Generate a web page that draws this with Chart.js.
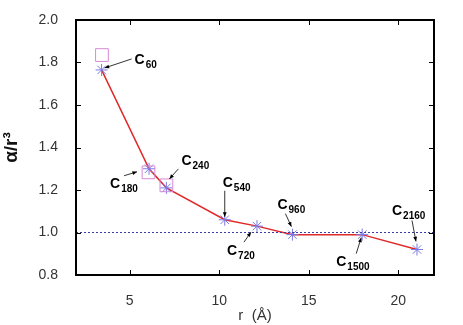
<!DOCTYPE html>
<html>
<head>
<meta charset="utf-8">
<script src="https://cdn.jsdelivr.net/npm/chart.js@4.4.1/dist/chart.umd.min.js"></script>
<style>
  html, body { margin: 0; padding: 0; background: #fff; }
  #wrap { width: 463px; height: 325px; }
</style>
</head>
<body>
<div id="wrap"><canvas id="plot"></canvas></div>
<script>
// cluster radius (Angstrom) and alpha/r^3
const radius = [3.43, 6.08, 7.05, 10.31, 12.11, 14.09, 17.99, 21.05];
const alphaR3 = [1.765, 1.30, 1.21, 1.06, 1.03, 0.99, 0.99, 0.92];
const clusterSizes = ["60", "180", "240", "540", "720", "960", "1500", "2160"];

// second set (open squares) for the three smallest fullerenes
const radiusSq = [3.45, 6.05, 7.05];
const alphaR3Sq = [1.835, 1.283, 1.222];

const refLineX = [2, 22];
const refLineY = [1.0, 1.0];

const xTicks = [5, 10, 15, 20];
const yTicks = [0.8, 1.0, 1.2, 1.4, 1.6, 1.8, 2.0];

// label placement: [label dx, dy, arrow tail dx, dy, arrow head dx, dy] in px from the point
const labelOffsets = [
  [33, -6, 30, -11, 3, -2],
  [-39, 19, -25, 7, -12, 3],
  [15, -23, 12, -19, 3, -9],
  [-2, -33, 0, -29, 0, -3],
  [-30, 29, -13, 16, -6, 6],
  [-15, -26, -7, -21, -1, -8],
  [-26, 31, -6, 19, -1, 3],
  [-25, -35, -5, -29, -1, -8],
];

function toPts(xs, ys) {
  return xs.map((x, i) => ({ x: x, y: ys[i] }));
}

const frame = {
  id: "frame",
  afterDatasetsDraw(chart) {
    const ctx = chart.ctx;
    const a = chart.chartArea;
    const xs = chart.scales.x, ys = chart.scales.y;
    ctx.save();
    ctx.strokeStyle = "#000";
    ctx.lineWidth = 1;
    ctx.beginPath();
    xTicks.forEach((t) => {
      const px = Math.round(xs.getPixelForValue(t)) + 0.5;
      ctx.moveTo(px, a.bottom); ctx.lineTo(px, a.bottom - 5);
      ctx.moveTo(px, a.top); ctx.lineTo(px, a.top + 5);
    });
    yTicks.forEach((t) => {
      const py = Math.round(ys.getPixelForValue(t)) + 0.5;
      ctx.moveTo(a.left, py); ctx.lineTo(a.left + 5, py);
      ctx.moveTo(a.right, py); ctx.lineTo(a.right - 5, py);
    });
    ctx.stroke();
    ctx.lineWidth = 2;
    ctx.strokeRect(a.left, a.top, a.right - a.left, a.bottom - a.top);

    // cluster labels with arrows
    ctx.fillStyle = "#000";
    ctx.lineWidth = 0.8;
    radius.forEach((r, i) => {
      const px = xs.getPixelForValue(r);
      const py = ys.getPixelForValue(alphaR3[i]);
      const o = labelOffsets[i];
      ctx.font = "bold 14px 'Liberation Sans', Arial, sans-serif";
      ctx.textBaseline = "alphabetic";
      ctx.fillText("C", px + o[0], py + o[1]);
      const w = ctx.measureText("C").width;
      ctx.font = "bold 10px 'Liberation Sans', Arial, sans-serif";
      ctx.fillText(clusterSizes[i], px + o[0] + w + 1, py + o[1] + 4);

      const x1 = px + o[2], y1 = py + o[3], x2 = px + o[4], y2 = py + o[5];
      ctx.beginPath();
      ctx.moveTo(x1, y1); ctx.lineTo(x2, y2);
      ctx.stroke();
      const ang = Math.atan2(y2 - y1, x2 - x1);
      ctx.beginPath();
      ctx.moveTo(x2, y2);
      ctx.lineTo(x2 - 5 * Math.cos(ang - 0.4), y2 - 5 * Math.sin(ang - 0.4));
      ctx.lineTo(x2 - 5 * Math.cos(ang + 0.4), y2 - 5 * Math.sin(ang + 0.4));
      ctx.closePath();
      ctx.fill();
    });
    ctx.restore();
  },
};

new Chart(document.getElementById("plot"), {
  type: "scatter",
  data: {
    datasets: [
      {
        data: toPts(refLineX, refLineY),
        showLine: true,
        borderColor: "#3a3aa0",
        borderWidth: 1,
        borderDash: [2, 2],
        pointRadius: 0,
      },
      {
        data: toPts(radiusSq, alphaR3Sq),
        pointStyle: "rect",
        pointRadius: 9,
        borderColor: "#d48ad4",
        backgroundColor: "rgba(0,0,0,0)",
        borderWidth: 1,
      },
      {
        data: toPts(radius, alphaR3),
        showLine: true,
        borderColor: "#e02828",
        borderWidth: 1.5,
        pointStyle: "star",
        pointRadius: 6,
        pointBorderColor: "#7a7ae8",
        pointBorderWidth: 1,
      },
    ],
  },
  plugins: [frame],
  options: {
    responsive: true,
    maintainAspectRatio: false,
    animation: false,
    layout: { padding: { top: 20, right: 29, left: 0, bottom: 0 } },
    plugins: { legend: { display: false }, tooltip: { enabled: false } },
    scales: {
      x: {
        type: "linear",
        min: 2,
        max: 22,
        afterBuildTicks: (s) => { s.ticks = xTicks.map((v) => ({ value: v })); },
        afterFit: (s) => { s.height = 50; },
        grid: { display: false },
        border: { display: false },
        ticks: {
          padding: 10,
          color: "#333",
          font: { family: "'Liberation Sans', Arial, sans-serif", size: 14 },
        },
        title: {
          display: true,
          text: "r  (Å)",
          color: "#333",
          padding: { top: 5, bottom: 0 },
          font: { family: "'Liberation Sans', Arial, sans-serif", size: 15 },
        },
      },
      y: {
        min: 0.8,
        max: 2.0,
        afterBuildTicks: (s) => { s.ticks = yTicks.map((v) => ({ value: v })); },
        afterFit: (s) => { s.width = 76; },
        grid: { display: false },
        border: { display: false },
        ticks: {
          padding: 10,
          color: "#333",
          callback: (v) => v.toFixed(1),
          font: { family: "'Liberation Sans', Arial, sans-serif", size: 14 },
        },
        title: {
          display: true,
          text: "α/r³",
          color: "#111",
          padding: { top: 0, bottom: 2 },
          font: { family: "'Liberation Sans', Arial, sans-serif", size: 19, weight: "bold" },
        },
      },
    },
  },
});
</script>
</body>
</html>
